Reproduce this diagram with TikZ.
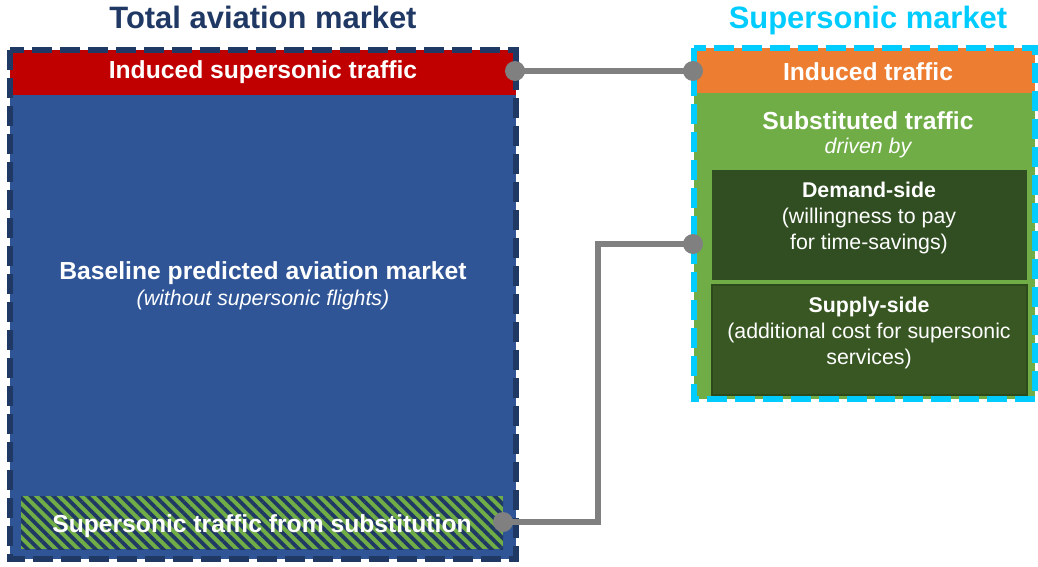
\documentclass[tikz,border=0pt]{standalone}
\usepackage{fontspec}
\setmainfont{Liberation Sans}
\usetikzlibrary{patterns.meta}
\definecolor{navy}{HTML}{1F3864}
\definecolor{cred}{HTML}{C00000}
\definecolor{cblue}{HTML}{2F5597}
\definecolor{cgreen}{HTML}{70AD47}
\definecolor{corange}{HTML}{ED7D31}
\definecolor{ccyan}{HTML}{00CCFF}
\definecolor{dgreenA}{HTML}{304E21}
\definecolor{dgreenB}{HTML}{385723}
\definecolor{dgreenC}{HTML}{2E4A1D}
\definecolor{cgray}{HTML}{808080}
\begin{document}
\begin{tikzpicture}[x=0.75pt,y=-0.75pt,
  box/.style={rectangle, inner sep=0pt, outer sep=0pt, anchor=north west, draw=none},
  title/.style={font=\fontsize{23.2}{26}\selectfont\bfseries, anchor=base},
  big/.style={text=white, font=\fontsize{18.5}{20}\selectfont\bfseries, align=center},
  small/.style={text=white, font=\fontsize{16}{19.5}\selectfont, align=center},
  frame/.style={line width=4.5pt, dash pattern=on 15pt off 6pt},
  dot/.style={circle, fill=cgray, minimum size=15pt, inner sep=0pt},
  conn/.style={draw=cgray, line width=4.2pt}]
\useasboundingbox (0,0) rectangle (1038,567);
% titles
\node[title, text=navy] (t1) at (263,29) {Total aviation market};
\node[title, text=ccyan] (t2) at (868,29) {Supersonic market};
% left market
\node[box, fill=cblue, minimum width=379.5pt, minimum height=381.75pt] (blue) at (10,50) {};
\node[box, fill=cred, minimum width=379.5pt, minimum height=33.75pt] (red) at (10,50) {};
\node[big] (redt) at (263,72) {Induced supersonic traffic};
\node[big] (baset) at (263,273) {Baseline predicted aviation market};
\node[small, font=\fontsize{16}{19.5}\selectfont\itshape] (baset2) at (263,300) {(without supersonic flights)};
\node[box, fill=cgreen, minimum width=361.5pt, minimum height=39.75pt] (hatch) at (21,496) {};
\fill[pattern={Lines[angle=-45, distance=6pt, line width=2.8pt]}, pattern color=navy] (hatch.north west) rectangle (hatch.south east);
\node[big] (hatcht) at (262,526) {Supersonic traffic from substitution};
\draw[frame, draw=navy] (blue.north west) rectangle (blue.south east);
% right market
\node[box, fill=cgreen, minimum width=255.75pt, minimum height=263.25pt] (green) at (694,48) {};
\node[box, fill=corange, minimum width=255.75pt, minimum height=33.75pt] (orange) at (694,48) {};
\node[big] (oranget) at (868,72) {Induced traffic};
\node[big] (subt) at (868,121) {Substituted traffic};
\node[small, font=\fontsize{16}{19.5}\selectfont\itshape] (subt2) at (868,148) {driven by};
\node[box, fill=dgreenA, minimum width=236.25pt, minimum height=82.5pt] (dem) at (712,170) {};
\node[box, fill=dgreenB, draw=dgreenC, line width=1.5pt, minimum width=236.25pt, minimum height=82.5pt] (sup) at (712,285) {};
\node[small] (demt) at (869,218) {\textbf{Demand-side}\\(willingness to pay\\for time-savings)};
\node[small] (supt) at (869,333) {\textbf{Supply-side}\\(additional cost for supersonic\\services)};
\draw[frame, draw=ccyan] (green.north west) rectangle (green.south east);
% connectors
\coordinate (p1) at (515,71);
\coordinate (p2) at (693,71);
\coordinate (p3) at (503,522);
\coordinate (p4) at (693,244);
\coordinate (k) at (598,400);
\draw[conn] (p1) -- (p2);
\draw[conn] (p3) -| (k |- p4) -- (p4);
\node[dot] (d1) at (p1) {};
\node[dot] (d2) at (p2) {};
\node[dot] (d3) at (p3) {};
\node[dot] (d4) at (p4) {};
\end{tikzpicture}
\end{document}
